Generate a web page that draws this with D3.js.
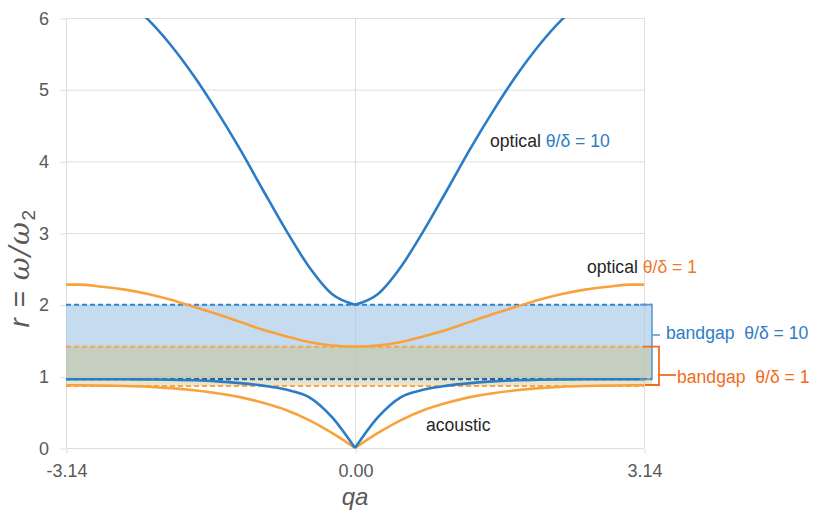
<!DOCTYPE html>
<html>
<head>
<meta charset="utf-8">
<script src="https://cdn.jsdelivr.net/npm/d3@7"></script>
<style>
  body { margin: 0; background: #fff; }
  text { font-family: "Liberation Sans", Arial, sans-serif; }
</style>
</head>
<body>
<script>
// reduced wave vector qa
var qa = [-3.14, -3.0, -2.75, -2.5, -2.25, -2.0, -1.75, -1.5, -1.25, -1.0, -0.75, -0.5, -0.25, 0,
          0.25, 0.5, 0.75, 1.0, 1.25, 1.5, 1.75, 2.0, 2.25, 2.5, 2.75, 3.0, 3.14];
// theta/delta = 10
var opticalBlue = [6.56, 6.54, 6.44, 6.26, 5.98, 5.62, 5.19, 4.70, 4.17, 3.60, 3.04, 2.53, 2.15, 2.00,
                   2.15, 2.53, 3.04, 3.60, 4.17, 4.70, 5.19, 5.62, 5.98, 6.26, 6.44, 6.54, 6.56];
var acousticBlue = [0.96, 0.96, 0.96, 0.96, 0.957, 0.953, 0.945, 0.93, 0.905, 0.87, 0.815, 0.71, 0.43, 0,
                    0.43, 0.71, 0.815, 0.87, 0.905, 0.93, 0.945, 0.953, 0.957, 0.96, 0.96, 0.96, 0.96];
// theta/delta = 1
var opticalOrange = [2.28, 2.28, 2.25, 2.21, 2.15, 2.07, 1.97, 1.87, 1.76, 1.65, 1.56, 1.48, 1.43, 1.414,
                     1.43, 1.48, 1.56, 1.65, 1.76, 1.87, 1.97, 2.07, 2.15, 2.21, 2.25, 2.28, 2.28];
var acousticOrange = [0.875, 0.875, 0.87, 0.865, 0.855, 0.835, 0.805, 0.765, 0.71, 0.63, 0.53, 0.39, 0.21, 0,
                      0.21, 0.39, 0.53, 0.63, 0.71, 0.765, 0.805, 0.835, 0.855, 0.865, 0.87, 0.875, 0.875];
// band gaps [bottom, top]
var gapBlue = [0.96, 2.0];
var gapOrange = [0.865, 1.414];
var yTicks = [0, 1, 2, 3, 4, 5, 6];
var xTicks = [-3.14, 0, 3.14];

var width = 814, height = 515;
var blue = "#2b7cc7", orange = "#f9a23c";

var svg = d3.select("body").append("svg")
  .attr("width", width)
  .attr("height", height);
svg.append("rect").attr("width", width).attr("height", height).attr("fill", "#fff");

var x = d3.scaleLinear().domain([-3.14, 3.14]).range([66, 644]);
var y = d3.scaleLinear().domain([0, 6]).range([448, 18]);

// grid
var grid = svg.append("g").attr("stroke", "#dedede").attr("stroke-width", 1);
grid.selectAll(".h").data(yTicks).enter().append("line")
  .attr("x1", x(-3.14)).attr("x2", x(3.14))
  .attr("y1", function (d) { return y(d) + 0.5; })
  .attr("y2", function (d) { return y(d) + 0.5; });
grid.selectAll(".v").data(xTicks).enter().append("line")
  .attr("x1", function (d) { return Math.round(x(d)) + 0.5; })
  .attr("x2", function (d) { return Math.round(x(d)) + 0.5; })
  .attr("y1", y(6)).attr("y2", y(0));

// axes
var fmt2 = d3.format(".2f");
var yAxis = svg.append("g")
  .attr("transform", "translate(" + x(-3.14) + ",0.5)")
  .call(d3.axisLeft(y).tickValues(yTicks).tickSize(6).tickPadding(11).tickFormat(d3.format("d")));
var xAxis = svg.append("g")
  .attr("transform", "translate(0.5," + (y(0) + 0.5) + ")")
  .call(d3.axisBottom(x).tickValues(xTicks).tickSize(5).tickPadding(11)
    .tickFormat(function (d) { return fmt2(d).replace("\u2212", "-"); }));
[yAxis, xAxis].forEach(function (a) {
  a.select(".domain").remove();
  a.selectAll("line").attr("stroke", "#dedede");
  a.selectAll("text").attr("fill", "#595959").style("font-size", "18px")
    .style("font-family", "'Liberation Sans', Arial, sans-serif");
});

// band gap areas
var xr = 652;
svg.append("rect")
  .attr("x", x(-3.14)).attr("width", xr - x(-3.14))
  .attr("y", y(gapBlue[1])).attr("height", y(gapBlue[0]) - y(gapBlue[1]))
  .attr("fill", "#9dc3e6").attr("fill-opacity", 0.6);
svg.append("rect")
  .attr("x", x(-3.14)).attr("width", xr - x(-3.14))
  .attr("y", y(gapOrange[1])).attr("height", y(gapOrange[0]) - y(gapOrange[1]))
  .attr("fill", "#c8be78").attr("fill-opacity", 0.4);

// dashed gap edges
function hline(v, x2, color, w) {
  svg.append("line")
    .attr("x1", x(-3.14)).attr("x2", x2)
    .attr("y1", y(v)).attr("y2", y(v))
    .attr("stroke", color).attr("stroke-width", w)
    .attr("stroke-dasharray", "5,3");
}
hline(gapBlue[1], xr, "#2e86d0", 2);
hline(gapOrange[1], x(3.14), "#f5a54a", 2);
hline(gapOrange[0], x(3.14), "#f5a54a", 2);
hline(gapBlue[0], xr, "#2a5c9e", 2.2);

// curves, each half drawn separately to keep the cusp at qa = 0
svg.append("clipPath").attr("id", "clip")
  .append("rect").attr("x", x(-3.14)).attr("y", y(6)).attr("width", x(3.14) - x(-3.14)).attr("height", y(0) - y(6) + 4);
var line = d3.line()
  .x(function (d) { return x(d[0]); })
  .y(function (d) { return y(d[1]); })
  .curve(d3.curveMonotoneX);
var curveg = svg.append("g").attr("clip-path", "url(#clip)");
[[acousticOrange, orange], [opticalOrange, orange], [acousticBlue, blue], [opticalBlue, blue]].forEach(function (s) {
  var pts = qa.map(function (q, i) { return [q, s[0][i]]; });
  var left = pts.filter(function (p) { return p[0] <= 0; });
  var right = pts.filter(function (p) { return p[0] >= 0; });
  [left, right].forEach(function (half) {
    curveg.append("path")
      .attr("d", line(half))
      .attr("fill", "none")
      .attr("stroke", s[1])
      .attr("stroke-width", 2.6);
  });
});

// brackets
var bb = svg.append("g").attr("fill", "none").attr("stroke", "#5b9bd5").attr("stroke-width", 1.6);
bb.append("path").attr("d", "M" + (x(3.14) - 4) + "," + y(gapBlue[1]) + "H" + xr + "V" + y(gapBlue[0]) + "H" + (x(3.14) - 4));
bb.append("line").attr("x1", xr).attr("x2", xr + 8).attr("y1", 335).attr("y2", 335);
var ob = svg.append("g").attr("fill", "none").attr("stroke", "#f26b21").attr("stroke-width", 1.8);
ob.append("path").attr("d", "M" + (x(3.14) - 1) + "," + y(gapOrange[1]) + "H659V" + (y(gapOrange[0]) - 1) + "H" + (x(3.14) + 1));
ob.append("line").attr("x1", 659).attr("x2", 676).attr("y1", 375).attr("y2", 375);

// labels
function label(px, py, parts, size) {
  var t = svg.append("text").attr("x", px).attr("y", py).style("font-size", (size || 17.6) + "px");
  parts.forEach(function (p) {
    t.append("tspan").attr("fill", p[1]).text(p[0]);
  });
  return t;
}
label(490, 147, [["optical ", "#262626"], ["\u03b8/\u03b4 = 10", "#2e7cc4"]]);
label(587, 273, [["optical ", "#262626"], ["\u03b8/\u03b4 = 1", "#f0782c"]]);
label(426, 431, [["acoustic", "#262626"]]);
label(666, 339, [["bandgap\u00a0 \u03b8/\u03b4 = 10", "#2e7cc4"]]);
label(677, 383, [["bandgap\u00a0 \u03b8/\u03b4 = 1", "#f26b21"]]);

// axis titles
svg.append("text")
  .attr("x", x(0)).attr("y", 505)
  .attr("text-anchor", "middle")
  .attr("fill", "#595959")
  .style("font-size", "24px").style("font-style", "italic")
  .text("qa");
var yt = svg.append("text")
  .attr("transform", "translate(29,268) rotate(-90)")
  .attr("text-anchor", "middle")
  .attr("fill", "#595959")
  .attr("letter-spacing", 1.5)
  .style("font-size", "28px");
yt.append("tspan").style("font-style", "italic").text("r");
yt.append("tspan").text("\u00a0=\u00a0");
yt.append("tspan").style("font-style", "italic").attr("font-family", "'DejaVu Serif', serif").text("\u03c9/\u03c9");
yt.append("tspan").attr("dy", 6).style("font-size", "19px").text("2");
</script>
</body>
</html>
